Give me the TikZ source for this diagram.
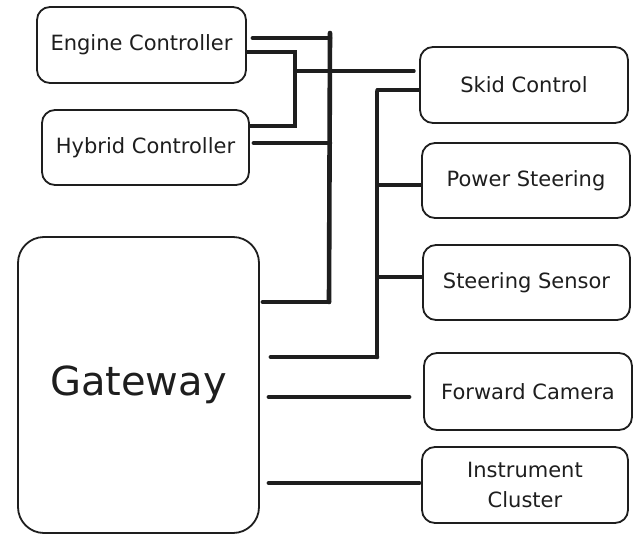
\documentclass[tikz,border=0pt]{standalone}
\usepackage{fontspec}
\setmainfont{DejaVu Sans}
\definecolor{ink}{HTML}{1E1E1E}
\begin{document}
\begin{tikzpicture}[x=1pt,y=-1pt,
  box/.style={draw=ink, line width=1.8pt, rounded corners=13pt, inner sep=0pt,
    align=center, font=\fontsize{21}{30}\selectfont, text=ink},
  heavy/.style={draw=ink, line width=4.6pt, line cap=round},
  medium/.style={draw=ink, line width=3.2pt, line cap=round}]
\fill[white] (0,0) rectangle (637,535);
\useasboundingbox (0,0) rectangle (637,535);

% ECUs on the left
\node[box, minimum width=209pt, minimum height=76pt] (eng) at (141.5,45) {Engine Controller};
\node[box, minimum width=207pt, minimum height=75pt] (hyb) at (145.5,147.5) {Hybrid Controller};
\node[box, rounded corners=26pt, minimum width=241pt, minimum height=296pt,
      font=\fontsize{40}{48}\selectfont] (gw) at (138.5,385) {Gateway};

% ECUs on the right
\node[box, minimum width=208pt, minimum height=76pt] (skid) at (524,85) {Skid Control};
\node[box, minimum width=208pt, minimum height=75pt] (pwr) at (526,180.5) {Power Steering};
\node[box, minimum width=207pt, minimum height=75pt] (sens) at (526.5,282.5) {Steering Sensor};
\node[box, minimum width=208pt, minimum height=77pt] (cam) at (528,391.5) {Forward Camera};
\node[box, minimum width=206pt, minimum height=76pt] (clu) at (525,485) {Instrument\\Cluster};

% bus A: engine, hybrid and gateway
\coordinate (a1) at (330,33);
\coordinate (a2) at (329,302);
\draw[heavy] (a1) -- (a2);
\draw[heavy] ([xshift=6pt,yshift=7pt]eng.east) -- ([yshift=7pt]eng.east -| a1);
\draw[heavy] ([xshift=4pt,yshift=4.5pt]hyb.east) -- ([yshift=4.5pt]hyb.east -| a1);
\draw[heavy] ([xshift=3pt,yshift=83pt]gw.east) -- (a2);

% bus B: engine and hybrid to skid control
\coordinate (b1) at (295,52);
\coordinate (b2) at (295,126);
\coordinate (b3) at (295,71);
\draw[medium] ([yshift=-7pt]eng.east) -- (b1) -- (b2) -- ([yshift=21.5pt]hyb.east);
\draw[medium] (b3) -- ([xshift=-5pt,yshift=14pt]skid.west);

% bus C: chassis ECUs to gateway
\coordinate (c1) at (377,92);
\coordinate (c2) at (377,357);
\draw[heavy] (c1) -- (c2);
\draw[medium] ([yshift=-5pt]skid.west) -- ([yshift=-5pt]skid.west -| c1);
\draw[medium] ([yshift=-4.5pt]pwr.west) -- ([yshift=-4.5pt]pwr.west -| c1);
\draw[medium] ([yshift=5.5pt]sens.west) -- ([yshift=5.5pt]sens.west -| c1);
\draw[heavy] ([xshift=11pt,yshift=28pt]gw.east) -- (c2);

% direct gateway links
\draw[heavy] ([xshift=9pt,yshift=-12pt]gw.east) -- ([xshift=-14pt,yshift=-5.5pt]cam.west);
\draw[heavy] ([xshift=9pt,yshift=-98pt]gw.east) -- ([xshift=-2pt,yshift=2pt]clu.west);
\end{tikzpicture}
\end{document}
